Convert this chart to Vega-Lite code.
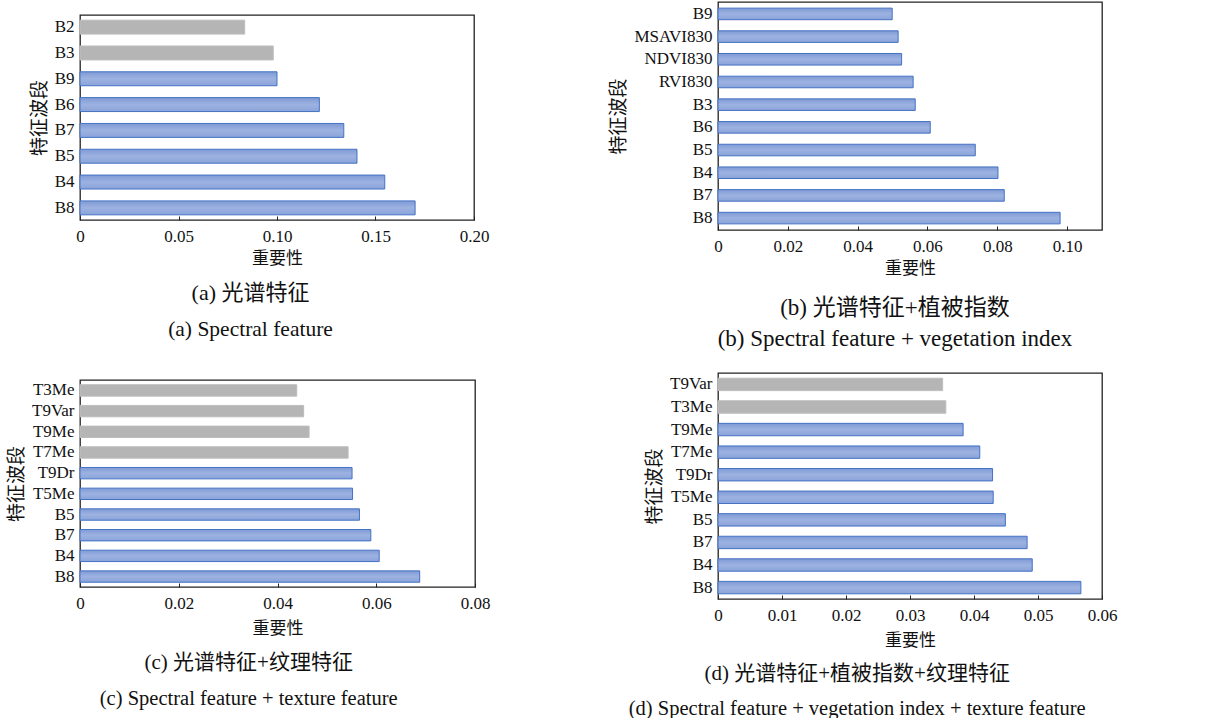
{
  "$schema": "https://vega.github.io/schema/vega-lite/v6.json",
  "background": "white",
  "padding": {"left": 6, "top": 1, "right": 5, "bottom": 2},
  "datasets": {
    "a": [
      {"feature": "B2", "importance": 0.0836, "selected": "no"},
      {"feature": "B3", "importance": 0.0981, "selected": "no"},
      {"feature": "B9", "importance": 0.1000, "selected": "yes"},
      {"feature": "B6", "importance": 0.1215, "selected": "yes"},
      {"feature": "B7", "importance": 0.1339, "selected": "yes"},
      {"feature": "B5", "importance": 0.1406, "selected": "yes"},
      {"feature": "B4", "importance": 0.1547, "selected": "yes"},
      {"feature": "B8", "importance": 0.1701, "selected": "yes"}
    ],
    "b": [
      {"feature": "B9", "importance": 0.0499, "selected": "yes"},
      {"feature": "MSAVI830", "importance": 0.0516, "selected": "yes"},
      {"feature": "NDVI830", "importance": 0.0526, "selected": "yes"},
      {"feature": "RVI830", "importance": 0.0559, "selected": "yes"},
      {"feature": "B3", "importance": 0.0565, "selected": "yes"},
      {"feature": "B6", "importance": 0.0608, "selected": "yes"},
      {"feature": "B5", "importance": 0.0737, "selected": "yes"},
      {"feature": "B4", "importance": 0.0802, "selected": "yes"},
      {"feature": "B7", "importance": 0.0820, "selected": "yes"},
      {"feature": "B8", "importance": 0.0980, "selected": "yes"}
    ],
    "c": [
      {"feature": "T3Me", "importance": 0.0439, "selected": "no"},
      {"feature": "T9Var", "importance": 0.0453, "selected": "no"},
      {"feature": "T9Me", "importance": 0.0464, "selected": "no"},
      {"feature": "T7Me", "importance": 0.0543, "selected": "no"},
      {"feature": "T9Dr", "importance": 0.0551, "selected": "yes"},
      {"feature": "T5Me", "importance": 0.0552, "selected": "yes"},
      {"feature": "B5", "importance": 0.0566, "selected": "yes"},
      {"feature": "B7", "importance": 0.0589, "selected": "yes"},
      {"feature": "B4", "importance": 0.0606, "selected": "yes"},
      {"feature": "B8", "importance": 0.0688, "selected": "yes"}
    ],
    "d": [
      {"feature": "T9Var", "importance": 0.0351, "selected": "no"},
      {"feature": "T3Me", "importance": 0.0356, "selected": "no"},
      {"feature": "T9Me", "importance": 0.0383, "selected": "yes"},
      {"feature": "T7Me", "importance": 0.0409, "selected": "yes"},
      {"feature": "T9Dr", "importance": 0.0429, "selected": "yes"},
      {"feature": "T5Me", "importance": 0.0430, "selected": "yes"},
      {"feature": "B5", "importance": 0.0449, "selected": "yes"},
      {"feature": "B7", "importance": 0.0483, "selected": "yes"},
      {"feature": "B4", "importance": 0.0491, "selected": "yes"},
      {"feature": "B8", "importance": 0.0567, "selected": "yes"}
    ]
  },
  "config": {
    "view": {"stroke": "#222222", "strokeWidth": 1.3},
    "font": "Liberation Serif",
    "axis": {
      "grid": false,
      "domain": false,
      "labelFont": "Liberation Serif",
      "labelFontSize": 17,
      "labelColor": "#111111",
      "titleFont": "Noto Sans CJK SC",
      "titleFontWeight": "normal",
      "titleColor": "#111111"
    },
    "axisX": {
      "ticks": true,
      "tickSize": -4,
      "tickColor": "#222222",
      "tickWidth": 1,
      "labelPadding": 12,
      "titleFontSize": 17,
      "labelFlush": false
    },
    "axisY": {
      "ticks": false,
      "labelPadding": 6,
      "titleFontSize": 19,
      "titlePadding": 5
    },
    "title": {
      "orient": "bottom",
      "anchor": "middle",
      "frame": "bounds",
      "font": "Liberation Serif, Noto Sans CJK SC",
      "fontSize": 21,
      "fontWeight": "normal",
      "color": "#111111",
      "subtitleFont": "Liberation Serif, Noto Sans CJK SC",
      "subtitleFontSize": 20.5,
      "subtitleColor": "#111111",
      "subtitlePadding": 13
    }
  },
  "columns": 2,
  "align": {"row": "none", "column": "each"},
  "spacing": {"row": 20, "column": 118},
  "concat": [
    {
      "spacing": 37,
      "vconcat": [
        {
          "spacing": 0,
          "vconcat": [
            {
              "width": 1,
              "height": 12,
              "data": {"values": []},
              "mark": {"type": "point", "opacity": 0},
              "encoding": {},
              "view": {"stroke": null}
            },
            {
              "data": {"name": "a"},
              "width": 394,
              "height": 205,
              "title": {"text": "(a) 光谱特征", "subtitle": "(a) Spectral feature", "dx": -9, "offset": 17, "fontSize": 22, "subtitleFontSize": 21.5, "subtitlePadding": 14},
              "mark": {"type": "bar", "strokeWidth": 1},
              "encoding": {
                "y": {"field": "feature", "type": "nominal", "sort": null, "title": "特征波段",
                      "scale": {"paddingInner": 0.46, "paddingOuter": 0.2}},
                "x": {"field": "importance", "type": "quantitative", "title": "重要性",
                      "scale": {"domain": [0, 0.2], "nice": false},
                      "axis": {"values": [0, 0.05, 0.1, 0.15, 0.2], "titlePadding": 6, "labelExpr": "datum.value == 0 ? '0' : format(datum.value, '.2f')"}},
                "fill": {"condition": {"test": "datum.selected == 'no'", "value": "#b5b5b5"},
                         "value": {"gradient": "linear", "x1": 0, "y1": 0, "x2": 0, "y2": 1,
                                   "stops": [{"offset": 0, "color": "#7f9ad5"}, {"offset": 0.5, "color": "#9db2e1"}, {"offset": 1, "color": "#8aa3d9"}]}},
                "stroke": {"condition": {"test": "datum.selected == 'no'", "value": "#bdbdbd"}, "value": "#4472c4"}
              }
            }
          ]
        },
        {
          "data": {"name": "c"},
          "width": 395,
          "height": 207,
          "title": {"text": "(c) 光谱特征+纹理特征", "subtitle": "(c) Spectral feature + texture feature", "offset": 16, "subtitlePadding": 16},
          "mark": {"type": "bar", "strokeWidth": 1},
          "encoding": {
            "y": {"field": "feature", "type": "nominal", "sort": null, "title": "特征波段",
                  "scale": {"paddingInner": 0.45, "paddingOuter": 0.23}},
            "x": {"field": "importance", "type": "quantitative", "title": "重要性",
                  "scale": {"domain": [0, 0.08], "nice": false},
                  "axis": {"values": [0, 0.02, 0.04, 0.06, 0.08], "titlePadding": 9, "labelExpr": "datum.value == 0 ? '0' : format(datum.value, '.2f')"}},
            "fill": {"condition": {"test": "datum.selected == 'no'", "value": "#b5b5b5"},
                     "value": {"gradient": "linear", "x1": 0, "y1": 0, "x2": 0, "y2": 1,
                               "stops": [{"offset": 0, "color": "#7f9ad5"}, {"offset": 0.5, "color": "#9db2e1"}, {"offset": 1, "color": "#8aa3d9"}]}},
            "stroke": {"condition": {"test": "datum.selected == 'no'", "value": "#bdbdbd"}, "value": "#4472c4"}
          }
        }
      ]
    },
    {
      "spacing": 20,
      "vconcat": [
        {
          "data": {"name": "b"},
          "width": 384,
          "height": 228,
          "title": {"text": "(b) 光谱特征+植被指数", "subtitle": "(b) Spectral feature + vegetation index", "dx": 39, "offset": 21, "fontSize": 23, "subtitleFontSize": 23, "subtitlePadding": 8},
          "mark": {"type": "bar", "strokeWidth": 1},
          "encoding": {
            "y": {"field": "feature", "type": "nominal", "sort": null, "title": "特征波段",
                  "scale": {"paddingInner": 0.49, "paddingOuter": 0.27}},
            "x": {"field": "importance", "type": "quantitative", "title": "重要性",
                  "scale": {"domain": [0, 0.11], "nice": false},
                  "axis": {"values": [0, 0.02, 0.04, 0.06, 0.08, 0.1], "titlePadding": 6, "labelExpr": "datum.value == 0 ? '0' : format(datum.value, '.2f')"}},
            "fill": {"condition": {"test": "datum.selected == 'no'", "value": "#b5b5b5"},
                     "value": {"gradient": "linear", "x1": 0, "y1": 0, "x2": 0, "y2": 1,
                               "stops": [{"offset": 0, "color": "#7f9ad5"}, {"offset": 0.5, "color": "#9db2e1"}, {"offset": 1, "color": "#8aa3d9"}]}},
            "stroke": {"condition": {"test": "datum.selected == 'no'", "value": "#bdbdbd"}, "value": "#4472c4"}
          }
        },
        {
          "data": {"name": "d"},
          "width": 384,
          "height": 226,
          "title": {"text": "(d) 光谱特征+植被指数+纹理特征", "subtitle": "(d) Spectral feature + vegetation index + texture feature", "dx": -24, "offset": 15, "subtitlePadding": 15},
          "mark": {"type": "bar", "strokeWidth": 1},
          "encoding": {
            "y": {"field": "feature", "type": "nominal", "sort": null, "title": "特征波段",
                  "scale": {"paddingInner": 0.45, "paddingOuter": 0.23}},
            "x": {"field": "importance", "type": "quantitative", "title": "重要性",
                  "scale": {"domain": [0, 0.06], "nice": false},
                  "axis": {"values": [0, 0.01, 0.02, 0.03, 0.04, 0.05, 0.06], "titlePadding": 9, "labelExpr": "datum.value == 0 ? '0' : format(datum.value, '.2f')"}},
            "fill": {"condition": {"test": "datum.selected == 'no'", "value": "#b5b5b5"},
                     "value": {"gradient": "linear", "x1": 0, "y1": 0, "x2": 0, "y2": 1,
                               "stops": [{"offset": 0, "color": "#7f9ad5"}, {"offset": 0.5, "color": "#9db2e1"}, {"offset": 1, "color": "#8aa3d9"}]}},
            "stroke": {"condition": {"test": "datum.selected == 'no'", "value": "#bdbdbd"}, "value": "#4472c4"}
          }
        }
      ]
    }
  ]
}
